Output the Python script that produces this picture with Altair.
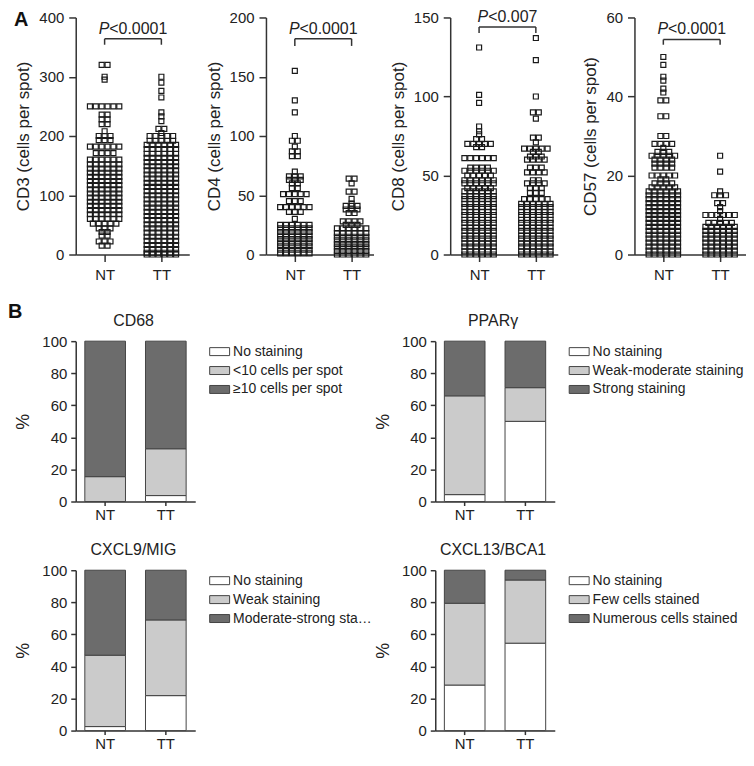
import altair as alt
import pandas as pd

FONT = "Liberation Sans"
INK = "#222222"
AXC = "#333333"

# ---------------- Panel A data (row value, number of squares in that row) ----------------
A_names = ["CD3", "CD4", "CD8", "CD57"]
A_ymax = [400, 200, 150, 60]
A_ystep = [100, 50, 50, 20]
A_pval = ["<0.0001", "<0.0001", "<0.007", "<0.0001"]
A_text_frac = [0.95, 0.95, 1.0, 0.95]
A_bracket_frac = [0.91, 0.91, 0.96, 0.907]
A_bracket_end = [0.885, 0.88, 0.935, 0.885]

CD3_NT_vals = [320, 300, 295, 250, 236, 228, 220, 208, 200, 193, 182, 171, 160, 152, 145, 138, 131, 124, 117,
               110, 103, 96, 89, 82, 75, 68, 60, 52, 44, 38, 32, 22, 15]
CD3_NT_cnts = [2, 1, 1, 6, 2, 2, 2, 1, 3, 3, 6, 4, 6, 6, 6, 6, 6, 6, 6,
               6, 6, 6, 6, 6, 6, 6, 6, 5, 3, 2, 2, 3, 2]
CD3_TT_vals = [300, 290, 276, 265, 240, 233, 225, 212, 205, 200, 192, 185, 178, 170, 163, 156, 149, 142, 135,
               128, 121, 114, 107, 100, 93, 86, 79, 72, 65, 58, 51, 44, 37, 30, 23, 16, 9, 3, 0]
CD3_TT_cnts = [1, 1, 1, 1, 1, 1, 1, 2, 1, 5, 5, 6, 6, 6, 6, 6, 6, 6, 6,
               6, 6, 6, 6, 6, 6, 6, 6, 6, 6, 6, 6, 6, 6, 6, 6, 6, 6, 6, 6]

CD4_NT_vals = [155, 130, 120, 100, 96, 91, 87, 83, 70, 66, 63, 60, 56, 51, 45, 40, 36, 30, 25, 22, 19,
               16, 13, 10, 7, 4, 1]
CD4_NT_cnts = [1, 1, 1, 1, 2, 1, 2, 2, 1, 3, 3, 2, 2, 5, 3, 6, 3, 1, 6, 6, 6,
               6, 6, 6, 6, 6, 6]
CD4_TT_vals = [64, 60, 53, 47, 43, 41, 38, 35, 28, 25, 22, 18, 15, 12, 9, 6, 3, 0]
CD4_TT_cnts = [2, 1, 2, 1, 1, 3, 3, 2, 4, 3, 6, 6, 6, 6, 6, 6, 6, 6]

CD8_NT_vals = [131, 101, 96, 81, 78, 76, 73, 70, 68, 61, 55, 53, 50, 47, 45, 42, 40, 37, 35, 32, 30,
               27, 25, 22, 20, 17, 15, 12, 10, 7, 5, 2, 0]
CD8_NT_cnts = [1, 1, 1, 1, 1, 1, 2, 5, 2, 6, 4, 6, 5, 6, 6, 5, 6, 6, 6, 6, 6,
               6, 6, 6, 6, 6, 6, 6, 6, 6, 6, 6, 6]
CD8_TT_vals = [137, 123, 100, 90, 86, 74, 71, 67, 65, 62, 60, 55, 52, 47, 45, 42, 39, 35, 32, 30,
               27, 25, 22, 20, 17, 15, 12, 10, 7, 5, 2, 0]
CD8_TT_cnts = [1, 1, 1, 2, 1, 2, 1, 5, 2, 3, 4, 3, 4, 2, 4, 3, 3, 5, 6, 6,
               6, 6, 6, 6, 6, 6, 6, 6, 6, 6, 6, 6]

CD57_NT_vals = [50, 48, 45, 44, 42, 41, 39, 35, 30, 28, 27, 26, 25, 24, 23, 22, 20, 19, 18, 17, 16, 15,
                14, 13, 12, 11, 10, 9, 8, 7, 6, 5, 4, 3, 2, 1, 0]
CD57_NT_cnts = [1, 1, 1, 1, 1, 1, 2, 2, 2, 4, 1, 3, 5, 4, 4, 4, 5, 2, 4, 5, 6, 6,
                6, 6, 6, 6, 6, 6, 6, 6, 6, 6, 6, 6, 6, 6, 6]
CD57_TT_vals = [25, 21, 16, 15, 13, 12, 11, 10, 9, 8, 7, 6, 5, 4, 3, 2, 1, 0]
CD57_TT_cnts = [1, 1, 1, 3, 2, 1, 1, 6, 1, 5, 6, 6, 6, 6, 6, 6, 6, 6]

A_data = [
    ((CD3_NT_vals, CD3_NT_cnts), (CD3_TT_vals, CD3_TT_cnts)),
    ((CD4_NT_vals, CD4_NT_cnts), (CD4_TT_vals, CD4_TT_cnts)),
    ((CD8_NT_vals, CD8_NT_cnts), (CD8_TT_vals, CD8_TT_cnts)),
    ((CD57_NT_vals, CD57_NT_cnts), (CD57_TT_vals, CD57_TT_cnts)),
]
groups = ["NT", "TT"]

# ---------------- Panel B data ----------------
B_names = ["CD68", "PPARγ", "CXCL9/MIG", "CXCL13/BCA1"]
B_cats = [
    ["No staining", "<10 cells per spot", "≥10 cells per spot"],
    ["No staining", "Weak-moderate staining", "Strong staining"],
    ["No staining", "Weak staining", "Moderate-strong staining"],
    ["No staining", "Few cells stained", "Numerous cells stained"],
]
B_NT = [[0, 15.5, 84.5], [4.3, 61.6, 34.1], [2.5, 44.5, 53.0], [28.4, 51.0, 20.6]]
B_TT = [[3.7, 29.2, 67.1], [50.0, 21.0, 29.0], [21.8, 47.2, 31.0], [54.5, 39.4, 6.1]]
B_colors = ["#ffffff", "#cbcbcb", "#6c6c6c"]

# ---------------- layout constants ----------------
A_widths = [114, 108, 108, 112]
A_height = 238
NT_PX, TT_PX = 29, 86
COL_STEP_PX = 5.9
B_width, B_height = 120, 161

CHW = {"P": 0.667, "<": 0.584, "0": 0.556, ".": 0.278, "7": 0.556, "1": 0.556}


def scatter_panel(i):
    w = A_widths[i]
    unit = TT_PX - NT_PX
    lo, hi = -NT_PX / unit, (w - NT_PX) / unit
    step = COL_STEP_PX / unit
    ymax = A_ymax[i]
    rows = []
    for gi, (vals, cnts) in enumerate(A_data[i]):
        for v, c in zip(vals, cnts):
            for _ in range(c):
                rows.append({"grp": groups[gi], "gi": gi, "value": v})
    df = pd.DataFrame(rows)

    xs = alt.Scale(domain=[lo, hi], nice=False, zero=False)
    ys = alt.Scale(domain=[0, ymax], nice=False)
    xax = alt.Axis(values=[0, 1], labelExpr="datum.value == 0 ? 'NT' : 'TT'", title=None,
                   tickSize=7, labelPadding=6)
    yax = alt.Axis(values=list(range(0, ymax + 1, A_ystep[i])), title=f"{A_names[i]} (cells per spot)",
                   tickSize=7, labelPadding=5, titlePadding=6, titleFontSize=17)

    pts = alt.Chart(df).transform_window(
        rank="row_number()", groupby=["gi", "value"]
    ).transform_joinaggregate(
        cnt="count()", groupby=["gi", "value"]
    ).transform_calculate(
        xpos=f"datum.gi + {step} * (((datum.rank - 1) % 6) - (min(datum.cnt, 6) - 1) / 2)"
    ).mark_point(shape="square", filled=False, size=25, stroke="#1a1a1a", strokeWidth=1.2, opacity=1).encode(
        x=alt.X("xpos:Q", scale=xs, axis=xax),
        y=alt.Y("value:Q", scale=ys, axis=yax),
    )

    yb = A_bracket_frac[i] * ymax
    ye = A_bracket_end[i] * ymax
    br = pd.DataFrame({"xpos": [0, 0, 1], "xpos2": [1, 0, 1],
                       "value": [yb, yb, yb], "value2": [yb, ye, ye]})
    bracket = alt.Chart(br).mark_rule(color=AXC, strokeWidth=1.5).encode(
        x=alt.X("xpos:Q", scale=xs, axis=xax), x2="xpos2:Q",
        y=alt.Y("value:Q", scale=ys, axis=yax), y2="value2:Q",
    )

    s = "P" + A_pval[i]
    W = sum(CHW[c] for c in s) * 16
    pw = CHW["P"] * 16
    dx = -W / 2 + pw
    tdf = pd.DataFrame({"xpos": [0.5], "value": [A_text_frac[i] * ymax], "p": ["P"], "rest": [A_pval[i]]})
    tp = alt.Chart(tdf).mark_text(font=FONT, fontSize=16, fontStyle="italic", color=INK,
                                  align="right", baseline="middle", dx=dx).encode(
        x=alt.X("xpos:Q", scale=xs, axis=xax), y=alt.Y("value:Q", scale=ys, axis=yax), text="p:N")
    tr = alt.Chart(tdf).mark_text(font=FONT, fontSize=16, color=INK,
                                  align="left", baseline="middle", dx=dx).encode(
        x=alt.X("xpos:Q", scale=xs, axis=xax), y=alt.Y("value:Q", scale=ys, axis=yax), text="rest:N")
    layers = [pts, bracket, tp, tr]
    if i == 0:
        lab = alt.Chart(pd.DataFrame({"t": ["A"]})).mark_text(
            font=FONT, fontSize=20, fontWeight="bold", color="#111", align="left", baseline="middle",
            x=-62, y=3).encode(text="t:N")
        layers.append(lab)
    return alt.layer(*layers).properties(width=w, height=A_height)


PATH = "M-1,-0.4H1V0.4H-1Z"


def bar_panel(i):
    cats = B_cats[i]
    rows = []
    for g, vals in zip(groups, [B_NT[i], B_TT[i]]):
        for k, (c, v) in enumerate(zip(cats, vals)):
            rows.append({"grp": g, "cat": c, "idx": k, "val": v})
    df = pd.DataFrame(rows)
    leg = alt.Legend(title=None, orient="right", offset=14, padding=0, symbolType=PATH, symbolSize=400,
                     symbolStrokeColor="#444", symbolStrokeWidth=1, symbolOpacity=1,
                     labelFont=FONT, labelFontSize=14, labelColor=INK, rowPadding=1, labelOffset=3,
                     labelLimit=142 if i == 2 else 300)
    bars = alt.Chart(df).mark_bar(stroke="#444", strokeWidth=1, opacity=1).encode(
        x=alt.X("grp:N", sort=groups, scale=alt.Scale(paddingInner=0.33, paddingOuter=0.15),
                axis=alt.Axis(title=None, labelAngle=0, tickSize=4, labelPadding=2)),
        y=alt.Y("val:Q", stack="zero", scale=alt.Scale(domain=[0, 100], nice=False),
                axis=alt.Axis(values=[0, 20, 40, 60, 80, 100], title="%", tickSize=5, labelPadding=4,
                              titlePadding=9)),
        color=alt.Color("cat:N", scale=alt.Scale(domain=cats, range=B_colors), legend=leg),
        order=alt.Order("idx:Q", sort="ascending"),
    )
    ttl = alt.Chart(pd.DataFrame({"t": [B_names[i]]})).mark_text(
        font=FONT, fontSize=16, color=INK, align="center", baseline="middle",
        x=B_width / 2 - 2, y=-20).encode(text="t:N")
    layers = [bars, ttl]
    if i == 0:
        lab = alt.Chart(pd.DataFrame({"t": ["B"]})).mark_text(
            font=FONT, fontSize=20, fontWeight="bold", color="#111", align="left", baseline="middle",
            x=-68, y=-29).encode(text="t:N")
        layers.append(lab)
    return alt.layer(*layers).properties(width=B_width, height=B_height)


rowA = alt.hconcat(*[scatter_panel(i) for i in range(4)], spacing=77, bounds="flush")
rowB1 = alt.hconcat(bar_panel(0), bar_panel(1), spacing=241, bounds="flush").resolve_scale(color="independent")
rowB2 = alt.hconcat(bar_panel(2), bar_panel(3), spacing=241, bounds="flush").resolve_scale(color="independent")

chart = alt.concat(rowA, rowB1, rowB2, columns=1, spacing=20, align="none").resolve_scale(
    color="independent"
).properties(padding=0).configure_view(stroke=None).configure_axis(
    labelFont=FONT, titleFont=FONT, labelFontSize=15, titleFontSize=18, titleFontWeight="normal",
    labelColor=INK, titleColor=INK, domainColor=AXC, tickColor=AXC, domainWidth=1.5, tickWidth=1.5,
    grid=False,
)

chart.save("out.html", embed_options={"renderer": "svg", "actions": False})
